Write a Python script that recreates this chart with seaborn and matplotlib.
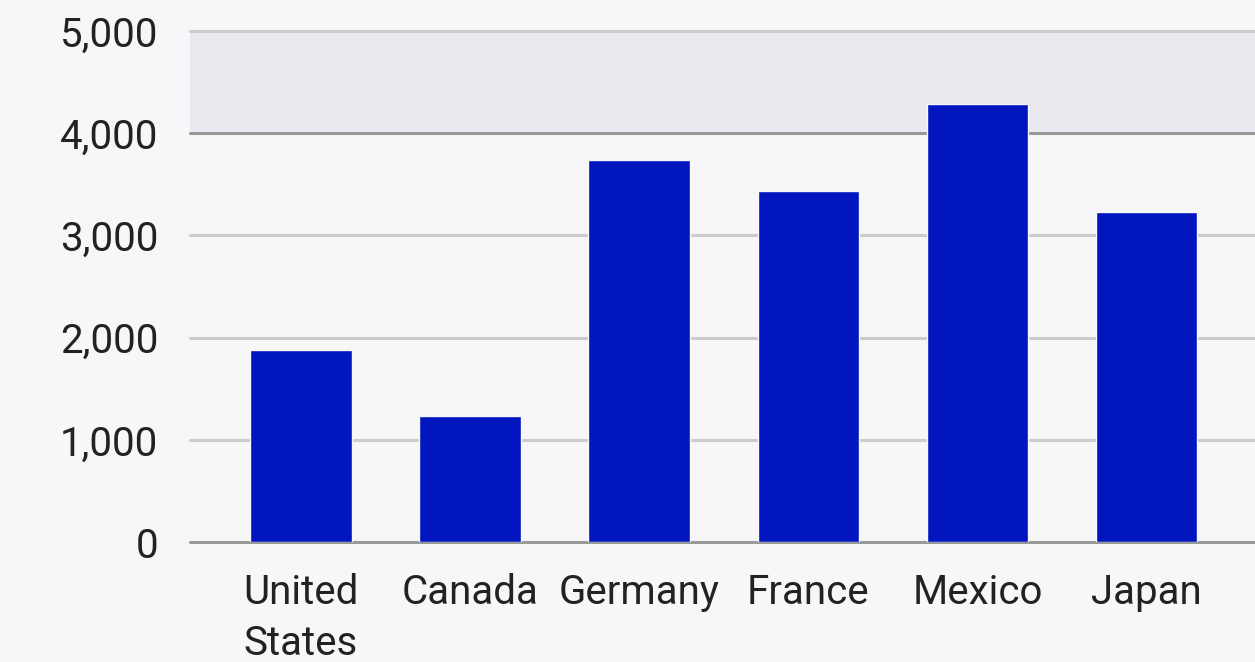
import matplotlib
matplotlib.use("Agg")
import matplotlib.pyplot as plt
import seaborn as sns
import pandas as pd

categories = ["United\nStates", "Canada", "Germany", "France", "Mexico", "Japan"]
values = [1880, 1235, 3740, 3435, 4285, 3230]
yticks = [0, 1000, 2000, 3000, 4000, 5000]
ytick_labels = ["0", "1,000", "2,000", "3,000", "4,000", "5,000"]

sns.set_theme(style="white")
plt.rcParams['font.family'] = ['Roboto', 'DejaVu Sans']

bg = "#f7f7f9"
fig = plt.figure(figsize=(12.55, 6.62), dpi=100, facecolor=bg)
ax = fig.add_axes([190/1255, 1-542/662, 1-190/1255, (542-31)/662])
ax.set_facecolor(bg)

df = pd.DataFrame({"country": categories, "value": values})

ax.axhspan(4000, 5000, color="#eae9f0", zorder=0, lw=0)
for t in [1000, 2000, 3000, 5000]:
    ax.axhline(t, color="#cccccc", lw=2.2, zorder=1, clip_on=False)
for t in [0, 4000]:
    ax.axhline(t, color="#999999", lw=2.2, zorder=1, clip_on=False)

sns.barplot(data=df, x="country", y="value", color="#0116be", saturation=1,
            width=0.6, ax=ax, zorder=2, edgecolor=bg, linewidth=1)

ax.set_xlim(-0.656, 5.642)
ax.set_ylim(0, 5000)
ax.set_yticks(yticks)
ax.set_yticklabels(ytick_labels)
ax.set_xlabel("")
ax.set_ylabel("")
for s in ax.spines.values():
    s.set_visible(False)
ax.tick_params(axis="both", length=0, labelsize=29, labelcolor="#222222")
ax.tick_params(axis="y", pad=23)
ax.tick_params(axis="x", pad=22)
for lbl in ax.get_xticklabels():
    lbl.set_linespacing(1.4)
    lbl.set_multialignment("left")

fig.savefig("out.png", dpi=100, facecolor=bg)
